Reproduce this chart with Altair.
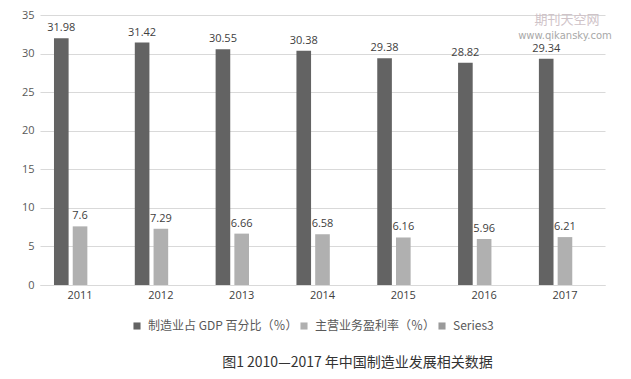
import altair as alt
import pandas as pd

years = ["2011", "2012", "2013", "2014", "2015", "2016", "2017"]
gdp_share = [31.98, 31.42, 30.55, 30.38, 29.38, 28.82, 29.34]
profit_rate = [7.6, 7.29, 6.66, 6.58, 6.16, 5.96, 6.21]
series_names = ["制造业占 GDP 百分比（％）", "主营业务盈利率（％）", "Series3"]
series_colors = ["#636363", "#b0b0b0", "#9a9a9a"]
y_ticks = [0, 5, 10, 15, 20, 25, 30, 35]
title_text = "图1 2010—2017 年中国制造业发展相关数据"
watermark = ["期刊天空网", "www.qikansky.com"]

rows = []
for yr, a, b in zip(years, gdp_share, profit_rate):
    rows.append({"year": yr, "series": series_names[0], "value": a, "label": str(a)})
    rows.append({"year": yr, "series": series_names[1], "value": b, "label": str(b)})
df = pd.DataFrame(rows)

FONT = "Noto Sans CJK SC"
NUMFONT = "Open Sans"

x = alt.X(
    "year:N",
    sort=years,
    scale=alt.Scale(paddingInner=0.355, paddingOuter=0.173),
    axis=alt.Axis(
        title=None, labelAngle=0, ticks=False, domainColor="#d9d9d9",
        labelColor="#404040", labelFontSize=11, labelPadding=4, labelFont=NUMFONT,
    ),
)
xo = alt.XOffset("series:N", scale=alt.Scale(domain=series_names, paddingInner=0.22, paddingOuter=0))
y = alt.Y(
    "value:Q",
    scale=alt.Scale(domain=[0, 35], nice=False),
    axis=alt.Axis(
        title=None, values=y_ticks, ticks=False, domain=False, gridColor="#d9d9d9",
        labelColor="#595959", labelFontSize=11, labelPadding=6, labelFont=NUMFONT,
    ),
)

base = alt.Chart(df)

bars = base.mark_bar().encode(
    x=x,
    xOffset=xo,
    y=y,
    color=alt.Color(
        "series:N",
        scale=alt.Scale(domain=series_names, range=series_colors),
        legend=alt.Legend(
            title=None, orient="none", direction="horizontal", legendX=91, legendY=305,
            symbolType="square", symbolSize=50, symbolStrokeWidth=0,
            labelFontSize=12, labelColor="#595959", labelFont=FONT,
            columnPadding=0, labelOffset=5,
        ),
    ),
)

labels = base.mark_text(dy=-10, fontSize=11, color="#404040", font=NUMFONT).encode(
    x=x, xOffset=xo, y=y, text="label:N"
)

wm1 = alt.Chart(pd.DataFrame({"t": [watermark[0]]})).mark_text(
    fontSize=13, color="#cfc3c8", font=FONT
).encode(x=alt.value(527), y=alt.value(5), text="t:N")
wm2 = alt.Chart(pd.DataFrame({"t": [watermark[1]]})).mark_text(
    fontSize=10, color="#a8a8a8", font="DejaVu Sans"
).encode(x=alt.value(525), y=alt.value(21), text="t:N")

chart = (
    alt.layer(bars, labels, wm1, wm2)
    .properties(
        width=565,
        height=270,
        autosize=alt.AutoSizeParams(type="none"),
        padding={"left": 32, "top": 7, "right": 10, "bottom": 86},
        title=alt.TitleParams(
            title_text, orient="bottom", anchor="middle", fontSize=14,
            fontWeight="normal", color="#333333", font=FONT, offset=24, dx=35,
        ),
    )
    .configure_view(stroke=None)
)

chart.save("out.html", embed_options={"renderer": "svg", "actions": False})
